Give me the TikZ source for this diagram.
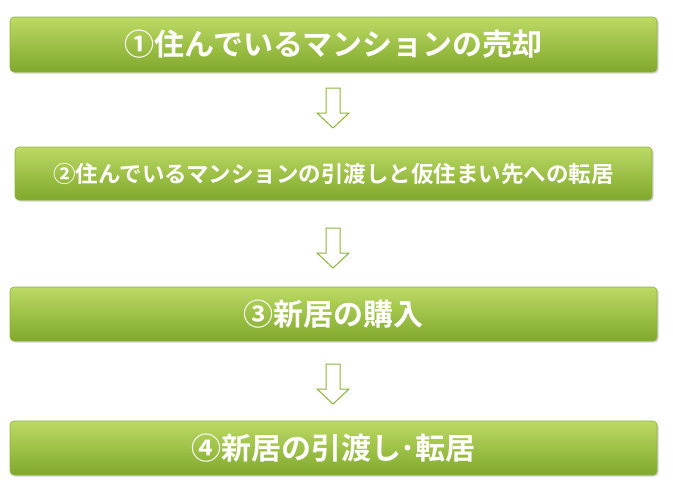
\documentclass[tikz,border=0pt]{standalone}
\usepackage{fontspec}
\newfontfamily\jp{Noto Sans CJK JP}[BoldFont={Noto Sans CJK JP Bold}]
\usetikzlibrary{shadows}
\definecolor{gtop}{RGB}{188,218,100}
\definecolor{gbot}{RGB}{128,168,44}
\definecolor{gline}{RGB}{140,180,60}
\begin{document}
\begin{tikzpicture}[x=1pt,y=-1pt,
  stepbox/.style={rounded corners=4pt,top color=gtop,bottom color=gbot,draw=gline,line width=0.6pt,
    text=white,inner sep=0pt,drop shadow={shadow xshift=1.5pt,shadow yshift=-1.5pt,opacity=0.35}},
  downarrow/.style={draw=gline,fill=white,line width=1pt,line join=miter}]
\useasboundingbox (0,0) rectangle (673,493);
\node[stepbox,minimum width=647pt,minimum height=55pt,font=\jp\bfseries\fontsize{30}{30}\selectfont] (s1) at (333.5,44.5) {①住んでいるマンションの売却};
\node[stepbox,minimum width=637pt,minimum height=53pt,font=\jp\bfseries\fontsize{22.5}{23}\selectfont] (s2) at (333.5,173.5) {②住んでいるマンションの引渡しと仮住まい先への転居};
\node[stepbox,minimum width=647pt,minimum height=54pt,font=\jp\bfseries\fontsize{30}{30}\selectfont] (s3) at (333.5,314) {③新居の購入};
\node[stepbox,minimum width=647pt,minimum height=54pt,font=\jp\bfseries\fontsize{30}{30}\selectfont] (s4) at (333.5,448) {④新居の引渡し･転居};
\foreach \n/\y in {a1/88,a2/228,a3/364}{
  \coordinate (\n) at (333,\y);
  \draw[downarrow] (\n) ++(-7,0) -- ++(14,0) -- ++(0,25) -- ++(9,0) -- ++(-16,15) -- ++(-16,-15) -- ++(9,0) -- cycle;
}
\end{tikzpicture}
\end{document}
